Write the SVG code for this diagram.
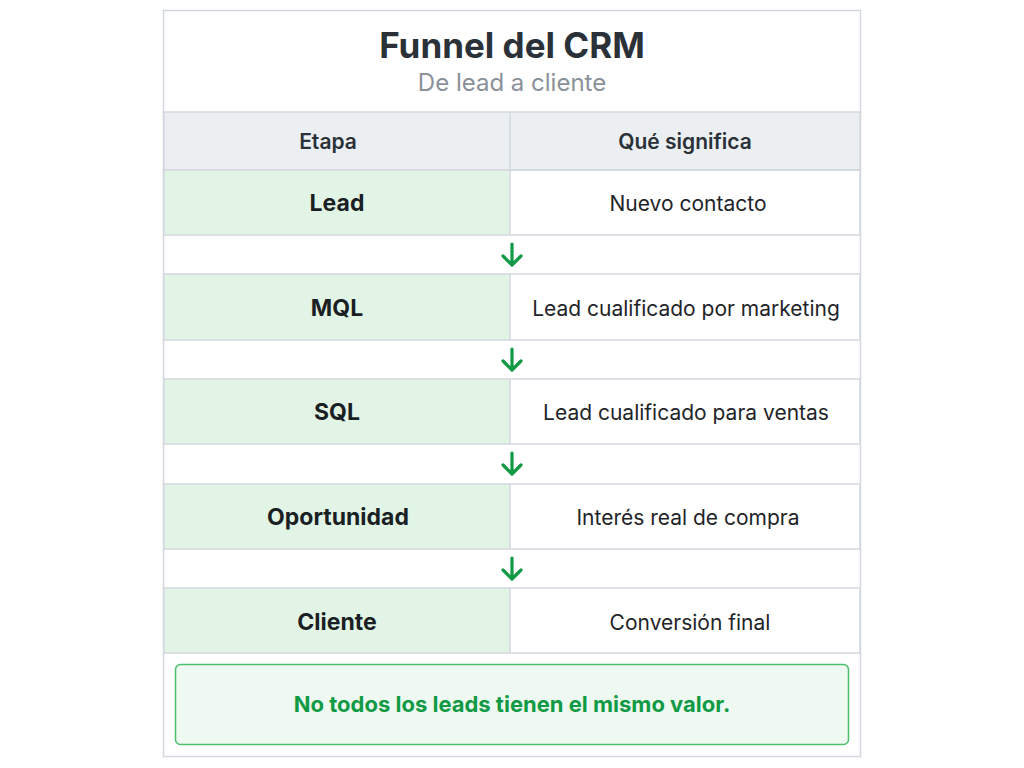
<svg xmlns="http://www.w3.org/2000/svg" width="1024" height="768" viewBox="0 0 1024 768">
<style>
.t{font-family:Inter,"Liberation Sans",sans-serif;text-anchor:middle}
.st{font-weight:700;font-size:23px;fill:#1a1f24}
.d{font-size:21px;fill:#1f2429}
.ln{stroke:#d3d8de;stroke-width:1.5;fill:none}
.ar{stroke:#119a45;stroke-width:3.2;fill:none;stroke-linecap:round;stroke-linejoin:round}
</style>
<rect width="1024" height="768" fill="#fff"/>
<rect x="163.5" y="10.5" width="697" height="746" fill="#fff" stroke="#d3d8de" stroke-width="1.5"/>
<text class="t" x="512" y="58" font-size="35" font-weight="700" fill="#2a3138">Funnel del CRM</text>
<text class="t" x="512" y="91" font-size="24" fill="#8a9199">De lead a cliente</text>
<g id="header">
<rect x="164" y="112" width="696" height="58" fill="#eceff2"/>
<rect x="164" y="112" width="696" height="58" class="ln"/>
<line x1="510" y1="112" x2="510" y2="170" class="ln"/>
<text class="t" x="328" y="149" font-size="21" font-weight="600" fill="#2a3138">Etapa</text>
<text class="t" x="685" y="149" font-size="21" font-weight="600" fill="#2a3138">Qué significa</text>
</g>
<g id="lead"><rect x="164" y="170" width="346" height="65" fill="#e2f4e6"/><rect x="164" y="170" width="696" height="65" class="ln"/><line x1="510" y1="170" x2="510" y2="235" class="ln"/>
<text class="t st" x="337" y="211">Lead</text><text class="t d" x="688" y="211">Nuevo contacto</text></g>
<g id="mql"><rect x="164" y="274" width="346" height="66" fill="#e2f4e6"/><rect x="164" y="274" width="696" height="66" class="ln"/><line x1="510" y1="274" x2="510" y2="340" class="ln"/>
<text class="t st" x="337" y="316">MQL</text><text class="t d" x="686" y="316">Lead cualificado por marketing</text></g>
<g id="sql"><rect x="164" y="379" width="346" height="65" fill="#e2f4e6"/><rect x="164" y="379" width="696" height="65" class="ln"/><line x1="510" y1="379" x2="510" y2="444" class="ln"/>
<text class="t st" x="337" y="420">SQL</text><text class="t d" x="686" y="420">Lead cualificado para ventas</text></g>
<g id="oportunidad"><rect x="164" y="484" width="346" height="65" fill="#e2f4e6"/><rect x="164" y="484" width="696" height="65" class="ln"/><line x1="510" y1="484" x2="510" y2="549" class="ln"/>
<text class="t st" x="338" y="525">Oportunidad</text><text class="t d" x="688" y="525">Interés real de compra</text></g>
<g id="cliente"><rect x="164" y="588" width="346" height="65" fill="#e2f4e6"/><rect x="164" y="588" width="696" height="65" class="ln"/><line x1="510" y1="588" x2="510" y2="653" class="ln"/>
<text class="t st" x="337" y="630">Cliente</text><text class="t d" x="690" y="630">Conversión final</text></g>
<g id="connectors">
<path class="ar" d="M512 244V264M503 256L512 265L521 256"/>
<path class="ar" d="M512 349V369M503 361L512 370L521 361"/>
<path class="ar" d="M512 453V473M503 465L512 474L521 465"/>
<path class="ar" d="M512 558V578M503 570L512 579L521 570"/>
</g>
<g id="note">
<rect x="175.5" y="664.5" width="673" height="80" rx="5" fill="#eef9f1" stroke="#4cc06e" stroke-width="1.5"/>
<text class="t" x="512" y="712" font-size="22" font-weight="700" fill="#119a45">No todos los leads tienen el mismo valor.</text>
</g>
</svg>
